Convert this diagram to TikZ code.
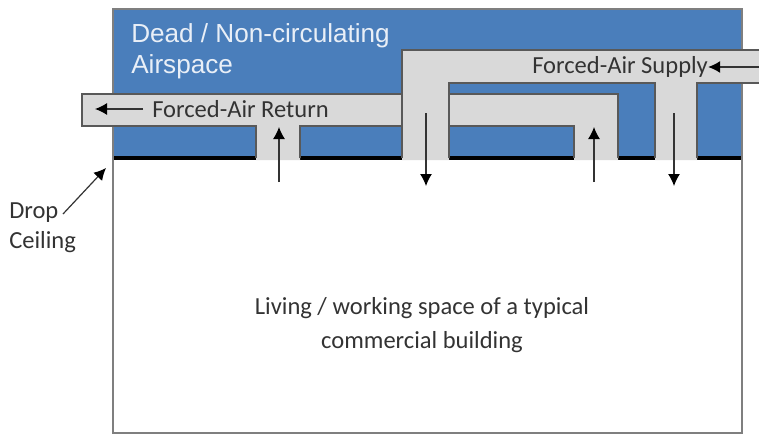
\documentclass[tikz,border=0pt]{standalone}
\usepackage{fontspec}
\setmainfont{Carlito}
\newfontfamily\arialf{Liberation Sans}
\usetikzlibrary{arrows.meta}
\definecolor{airblue}{HTML}{4A7EBB}
\definecolor{ductgray}{HTML}{D9D9D9}
\definecolor{edgegray}{HTML}{7F7F7F}
\definecolor{ductedge}{HTML}{595959}
\definecolor{labelink}{HTML}{333333}
\tikzset{
  x=0.75pt,y=-0.75pt,
  outerline/.style={draw=edgegray,line width=1.1pt},
  ductfill/.style={fill=ductgray,draw=none},
  ductline/.style={draw=ductedge,line width=0.9pt},
  flow/.style={draw=labelink,line width=0.9pt,-{Latex[length=9pt,width=9pt,color=black]}},
  ductlabel/.style={text=labelink,font=\fontsize{18.4}{22}\selectfont,inner sep=0pt,anchor=west},
  plainlabel/.style={text=labelink,font=\fontsize{18.4}{26}\selectfont,inner sep=0pt,align=center},
}
\begin{document}
\begin{tikzpicture}
\useasboundingbox (0,0) rectangle (759,436);
\fill[white] (0,0) rectangle (759,436);
% room and air space
\fill[airblue] (113,9) rectangle (742,158);
\fill[black] (113,155.5) rectangle (742,159.5);
\draw[outerline] (113,9) rectangle (742,433);
% return duct
\fill[ductfill] (82,94) -- (402,94) -- (402,126) -- (300,126) -- (300,160) -- (256,160) -- (256,126) -- (82,126) -- cycle;
\draw[ductline] (402,94) -- (82,94) -- (82,126) -- (256,126) -- (256,158);
\draw[ductline] (300,158) -- (300,126) -- (402,126);
\fill[ductfill] (449,94) -- (618,94) -- (618,160) -- (574,160) -- (574,126) -- (449,126) -- cycle;
\draw[ductline] (449,94) -- (618,94) -- (618,158);
\draw[ductline] (574,158) -- (574,126) -- (449,126);
% supply duct
\fill[ductfill] (402,50) -- (759,50) -- (759,83) -- (697,83) -- (697,160) -- (655,160) -- (655,83) -- (449,83) -- (449,160) -- (402,160) -- cycle;
\draw[ductline] (402,158) -- (402,50) -- (759,50);
\draw[ductline] (449,158) -- (449,83) -- (655,83) -- (655,158);
\draw[ductline] (697,158) -- (697,83) -- (759,83);
% text
\node[text=white!88!airblue,font=\arialf\fontsize{19.6}{23.2}\selectfont,align=left,inner sep=0pt,anchor=north west] (dead) at (131,23) {Dead / Non-circulating\\Airspace};
\node[ductlabel] (ret) at (152,109) {Forced-Air Return};
\node[ductlabel] (sup) at (532,67) {Forced-Air Supply};
\node[plainlabel,font=\fontsize{18.4}{22.5}\selectfont,align=left,anchor=north west] (drop) at (9,202) {Drop\\Ceiling};
\node[plainlabel] (room) at (422,325) {Living / working space of a typical\\commercial building};
% flow arrows
\coordinate (retend) at (95,109);
\draw[flow] (ret.west) ++(-9,0) -- (retend);
\coordinate (supstart) at (759,67);
\draw[flow] (supstart) -- (sup.east);
\coordinate (a1s) at (279,182); \coordinate (a1e) at (279,127);
\draw[flow] (a1s) -- (a1e);
\coordinate (a2s) at (426,113); \coordinate (a2e) at (426,186);
\draw[flow] (a2s) -- (a2e);
\coordinate (a3s) at (594,182); \coordinate (a3e) at (594,127);
\draw[flow] (a3s) -- (a3e);
\coordinate (a4s) at (674,113); \coordinate (a4e) at (674,186);
\draw[flow] (a4s) -- (a4e);
\coordinate (dropstart) at (63,214);
\coordinate (dropend) at (106,168);
\draw[flow] (dropstart) -- (dropend);
\end{tikzpicture}
\end{document}
